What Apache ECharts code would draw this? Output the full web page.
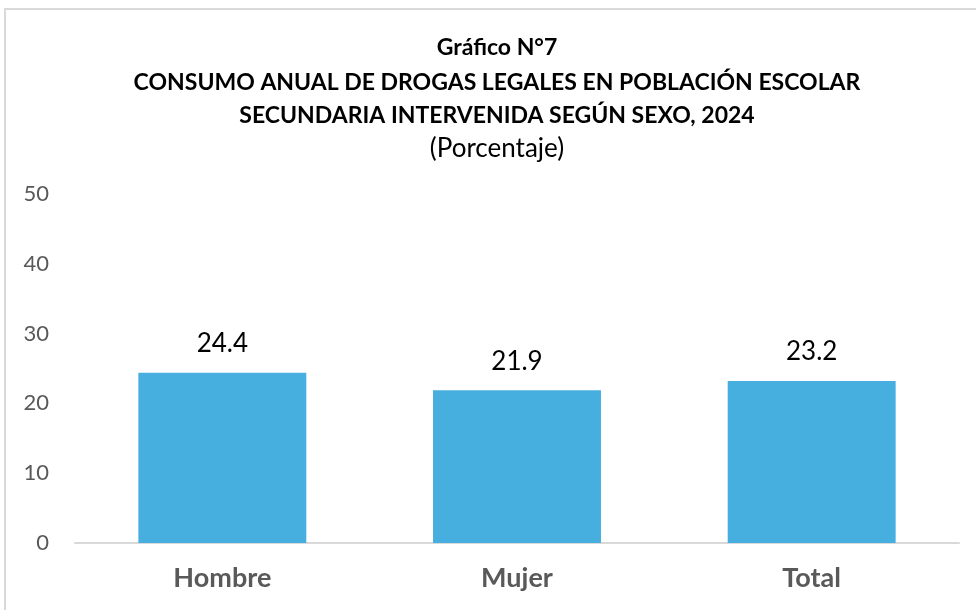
<!DOCTYPE html>
<html>
<head>
<meta charset="utf-8">
<script src="https://cdn.jsdelivr.net/npm/echarts@6/dist/echarts.min.js"></script>
<style>
  html, body { margin: 0; padding: 0; background: #ffffff; }
  #chart_main { width: 976px; height: 610px; }
</style>
</head>
<body>
<div id="chart_main"></div>
<script>
  // datos del gráfico
  const categorias = ['Hombre', 'Mujer', 'Total'];
  const valores = [24.4, 21.9, 23.2];
  const ticksY = [0, 10, 20, 30, 40, 50];

  const fuente = 'Lato, "Open Sans", sans-serif';

  let myChart = echarts.init(document.getElementById('chart_main'));
  let option = {
    animation: false,
    title: [
      { text: 'Gráfico N°7', left: 492, top: 31, textAlign: 'center',
        textStyle: { fontFamily: fuente, fontSize: 23, fontWeight: 'bold', color: '#000' } },
      { text: 'CONSUMO ANUAL DE DROGAS LEGALES EN POBLACIÓN ESCOLAR', left: 492, top: 66, textAlign: 'center',
        textStyle: { fontFamily: fuente, fontSize: 23, fontWeight: 'bold', color: '#000' } },
      { text: 'SECUNDARIA INTERVENIDA SEGÚN SEXO, 2024', left: 492, top: 99, textAlign: 'center',
        textStyle: { fontFamily: fuente, fontSize: 23, fontWeight: 'bold', color: '#000' } },
      { text: '(Porcentaje)', left: 492, top: 131, textAlign: 'center',
        textStyle: { fontFamily: fuente, fontSize: 26, fontWeight: 'normal', color: '#000' } }
    ],
    graphic: [
      { type: 'rect', shape: { x: 5, y: 9, width: 1000, height: 700 },
        style: { fill: 'none', stroke: '#d9d9d9', lineWidth: 2 }, silent: true }
    ],
    grid: { left: 75, right: 17, top: 194, bottom: 67, containLabel: false },
    xAxis: {
      type: 'category',
      data: categorias,
      axisLine: { lineStyle: { color: '#d9d9d9', width: 2 } },
      axisTick: { show: false },
      axisLabel: { fontFamily: fuente, fontSize: 27, fontWeight: 'bold', color: '#595959', margin: 22 }
    },
    yAxis: {
      type: 'value',
      min: ticksY[0],
      max: ticksY[ticksY.length - 1],
      interval: 10,
      splitLine: { show: false },
      axisLine: { show: false },
      axisTick: { show: false },
      axisLabel: { fontFamily: fuente, fontSize: 22, color: '#595959', margin: 26 }
    },
    series: [
      {
        type: 'bar',
        data: valores,
        barWidth: '57%',
        itemStyle: { color: '#47afdf' },
        label: {
          show: true,
          position: 'top',
          distance: 16,
          fontFamily: fuente,
          fontSize: 26,
          color: '#000',
          formatter: function (p) { return p.value.toFixed(1); }
        }
      }
    ]
  };
  myChart.setOption(option);
</script>
</body>
</html>
